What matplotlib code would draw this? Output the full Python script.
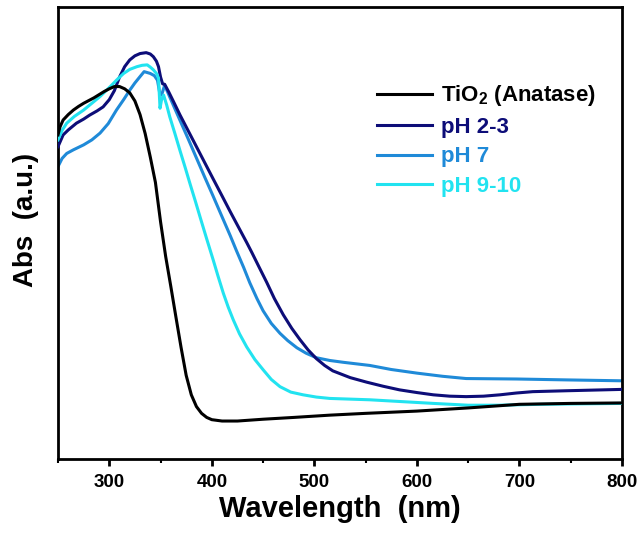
import matplotlib
matplotlib.use("Agg")
import matplotlib.pyplot as plt
from matplotlib.ticker import MultipleLocator, NullLocator

plt.rcParams['font.family'] = ['Liberation Sans', 'DejaVu Sans']
plt.rcParams['font.weight'] = 'bold'
plt.rcParams['mathtext.fontset'] = 'custom'
plt.rcParams['mathtext.rm'] = 'Liberation Sans:bold'
plt.rcParams['mathtext.bf'] = 'Liberation Sans:bold'
plt.rcParams['mathtext.default'] = 'bf'

# UV-Vis absorbance spectra (arbitrary units)
wl_tio2 = [250, 252, 255, 260, 265, 270, 275, 280, 285, 290, 295, 300, 305, 310, 315,
           320, 325, 330, 335, 340, 345, 350, 355, 360, 365, 370, 375, 380, 385, 390,
           395, 400, 410, 425, 450, 480, 515, 550, 600, 650, 700, 750, 800]
abs_tio2 = [0.717, 0.735, 0.750, 0.762, 0.772, 0.780, 0.787, 0.793, 0.799, 0.806, 0.813,
            0.819, 0.824, 0.824, 0.819, 0.810, 0.792, 0.762, 0.720, 0.668, 0.612, 0.525,
            0.448, 0.382, 0.314, 0.247, 0.185, 0.142, 0.116, 0.101, 0.092, 0.087, 0.084,
            0.084, 0.088, 0.092, 0.097, 0.101, 0.106, 0.113, 0.121, 0.123, 0.124]

wl_ph23 = [250, 255, 260, 268, 275, 281, 288, 294, 300, 305, 310, 315, 320, 325, 330,
           336, 340, 343, 346, 348, 350, 352, 354, 358, 363, 369, 377, 385, 393, 401,
           410, 418, 426, 434, 439, 446, 453.5, 461, 469.7, 478, 486, 494, 502, 510,
           518, 535, 551, 567, 583, 600, 616, 632, 648, 665, 681, 697, 713, 746, 800]
abs_ph23 = [0.691, 0.717, 0.728, 0.743, 0.752, 0.761, 0.770, 0.779, 0.795, 0.815, 0.845,
            0.868, 0.883, 0.892, 0.897, 0.899, 0.896, 0.890, 0.880, 0.868, 0.845, 0.830,
            0.829, 0.812, 0.789, 0.761, 0.726, 0.691, 0.656, 0.621, 0.582, 0.547, 0.513,
            0.479, 0.457, 0.425, 0.391, 0.355, 0.319, 0.289, 0.264, 0.241, 0.222, 0.207,
            0.195, 0.180, 0.170, 0.161, 0.153, 0.147, 0.142, 0.139, 0.138, 0.139, 0.142,
            0.146, 0.149, 0.151, 0.154]

wl_ph7 = [250, 254, 258.5, 265, 275, 283, 291, 299, 307, 314, 320, 325, 330, 334, 340,
          344, 347, 349, 351, 354, 358, 363, 369, 377, 385, 393, 401, 409, 418, 424,
          431, 437, 444, 450, 458, 466.5, 474, 483, 492, 502, 515, 528, 554, 575, 600,
          625, 648, 697, 746, 800]
abs_ph7 = [0.647, 0.665, 0.676, 0.684, 0.695, 0.706, 0.721, 0.742, 0.772, 0.795, 0.816,
           0.832, 0.846, 0.857, 0.853, 0.848, 0.838, 0.812, 0.805, 0.827, 0.806, 0.780,
           0.749, 0.708, 0.666, 0.624, 0.583, 0.541, 0.494, 0.461, 0.424, 0.390, 0.355,
           0.328, 0.300, 0.278, 0.262, 0.246, 0.234, 0.224, 0.218, 0.214, 0.207, 0.198,
           0.190, 0.183, 0.178, 0.177, 0.175, 0.173]

wl_ph910 = [250, 254, 258.5, 266, 275, 283, 291, 296, 301, 307, 314, 320, 327, 332, 337,
            340, 343, 346, 348, 349.5, 351, 353, 356, 359, 364, 369, 374, 379, 384, 389,
            395, 401.4, 406, 411.2, 416, 420.9, 427, 434, 442, 450.2, 458, 466.5, 477,
            489, 502, 515, 554, 585, 616, 650, 680, 720, 760, 800]
abs_ph910 = [0.706, 0.727, 0.743, 0.758, 0.772, 0.787, 0.802, 0.813, 0.824, 0.838, 0.853,
             0.862, 0.868, 0.871, 0.872, 0.867, 0.861, 0.853, 0.843, 0.776, 0.795, 0.805,
             0.783, 0.757, 0.720, 0.682, 0.645, 0.607, 0.570, 0.532, 0.487, 0.440, 0.405,
             0.367, 0.336, 0.308, 0.277, 0.248, 0.220, 0.197, 0.176, 0.160, 0.148, 0.142,
             0.137, 0.134, 0.131, 0.127, 0.123, 0.119, 0.119, 0.121, 0.122, 0.123]

labels = ['TiO$_2$ (Anatase)', 'pH 2-3', 'pH 7', 'pH 9-10']
colors = ['#000000', '#0d0d78', '#1f8ad8', '#22e3f0']

fig = plt.figure(figsize=(6.4, 5.38), dpi=100)
ax = fig.add_axes([58/640, 1-459/538, (622-58)/640, (459-7)/538])

series = [(wl_tio2, abs_tio2), (wl_ph23, abs_ph23), (wl_ph7, abs_ph7), (wl_ph910, abs_ph910)]
zorders = [5, 3, 2, 4]
for (x, y), lab, c, z in zip(series, labels, colors, zorders):
    ax.plot(x, y, color=c, lw=2.2, label=lab, zorder=z, solid_joinstyle='round')

ax.set_xlim(250, 800)
ax.set_ylim(0, 1)
ax.xaxis.set_major_locator(MultipleLocator(100))
ax.xaxis.set_minor_locator(MultipleLocator(50))
ax.yaxis.set_major_locator(NullLocator())
ax.yaxis.set_minor_locator(NullLocator())

for s in ax.spines.values():
    s.set_linewidth(2.0)
ax.tick_params(axis='x', which='major', direction='out', length=5, width=2,
               labelsize=13.5, pad=6)
ax.tick_params(axis='x', which='minor', direction='out', length=3, width=1.5)
for t in ax.get_xticklabels():
    t.set_fontweight('bold')

ax.set_xlabel('Wavelength  (nm)', fontsize=21, fontweight='bold', labelpad=3)
ax.set_ylabel('Abs  (a.u.)', fontsize=20, fontweight='bold')
ax.yaxis.set_label_coords(-0.033, 0.53)

leg = ax.legend(loc='upper left', bbox_to_anchor=(0.53, 0.875), frameon=False,
                handlelength=2.5, handletextpad=0.4, labelspacing=0.38,
                prop={'weight': 'bold', 'size': 16}, labelcolor=colors)

fig.savefig('out.png', dpi=100)
